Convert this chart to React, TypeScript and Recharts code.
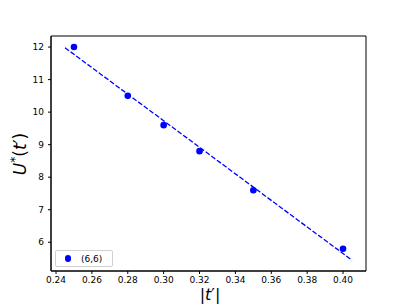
import React from "react";
import { ComposedChart, Scatter, Line, XAxis, YAxis, ReferenceArea } from "recharts";

// measured points
const tValues = [0.25, 0.28, 0.3, 0.32, 0.35, 0.4];
const uValues = [12.0, 10.5, 9.6, 8.8, 7.6, 5.8];

// dashed fit line at its two ends
const fitT = [0.245, 0.405];
const fitU = [11.98, 5.45];

const xTicks = [0.24, 0.26, 0.28, 0.3, 0.32, 0.34, 0.36, 0.38, 0.4];
const yTicks = [6, 7, 8, 9, 10, 11, 12];
const seriesName = "(6,6)";

const X_DOMAIN = [0.2372, 0.4128];
const Y_DOMAIN = [5.117, 12.34];

const points = tValues.map((t, i) => ({ x: t, y: uValues[i] }));
const fit = fitT.map((t, i) => ({ x: t, y: fitU[i] }));

const FONT = "DejaVu Sans, sans-serif";
const tickStyle = { fontSize: 9, fill: "#000", fontFamily: FONT };

const Dot = (props: any) => {
  const { cx, cy } = props;
  return <circle cx={cx} cy={cy} r={3.3} fill="#0000ff" />;
};

export default function App() {
  return (
    <div style={{ position: "fixed", left: 0, top: 0, width: 407, height: 305, background: "#fff" }}>
      <ComposedChart
        width={407}
        height={305}
        margin={{ top: 36, right: 41, bottom: 4, left: 11 }}
      >
        <XAxis
          type="number"
          dataKey="x"
          domain={X_DOMAIN}
          ticks={xTicks}
          allowDataOverflow
          tickFormatter={(v) => v.toFixed(2)}
          tick={tickStyle}
          tickSize={3}
          tickMargin={3}
          height={30}
          stroke="#000"
        />
        <YAxis
          type="number"
          dataKey="y"
          domain={Y_DOMAIN}
          ticks={yTicks}
          allowDataOverflow
          tick={tickStyle}
          tickSize={3}
          tickMargin={4}
          width={40}
          stroke="#000"
        />
        <ReferenceArea
          x1={X_DOMAIN[0]}
          x2={X_DOMAIN[1]}
          y1={Y_DOMAIN[0]}
          y2={Y_DOMAIN[1]}
          fill="none"
          stroke="#000"
          strokeWidth={1}
        />
        <Line
          data={fit}
          dataKey="y"
          type="linear"
          stroke="#0000ff"
          strokeWidth={1.3}
          strokeDasharray="5 2"
          dot={false}
          isAnimationActive={false}
        />
        <Scatter
          data={points}
          dataKey="y"
          fill="#0000ff"
          shape={<Dot />}
          isAnimationActive={false}
        />
      </ComposedChart>

      {/* y label */}
      <div
        style={{
          position: "absolute",
          left: 19,
          top: 154,
          transform: "translate(-50%, -50%) rotate(-90deg)",
          fontFamily: FONT,
          fontSize: 17,
          whiteSpace: "nowrap",
        }}
      >
        <i>U</i>
        <sup style={{ fontSize: 12 }}>*</sup>(<i>t</i>′)
      </div>

      {/* x label */}
      <div
        style={{
          position: "absolute",
          left: 210,
          top: 295,
          transform: "translate(-50%, -50%)",
          fontFamily: FONT,
          fontSize: 16,
          lineHeight: 1,
          whiteSpace: "nowrap",
        }}
      >
        |<i>t</i>′|
      </div>

      {/* legend */}
      <div
        style={{
          position: "absolute",
          left: 55,
          top: 250,
          width: 56,
          height: 15,
          border: "1px solid #d0d0d0",
          borderRadius: 2,
          background: "#fff",
          fontFamily: FONT,
          fontSize: 9,
          display: "flex",
          alignItems: "center",
        }}
      >
        <span
          style={{
            display: "inline-block",
            width: 6.6,
            height: 6.6,
            borderRadius: "50%",
            background: "#0000ff",
            marginLeft: 8.7,
          }}
        />
        <span style={{ marginLeft: 9.7 }}>{seriesName}</span>
      </div>
    </div>
  );
}
